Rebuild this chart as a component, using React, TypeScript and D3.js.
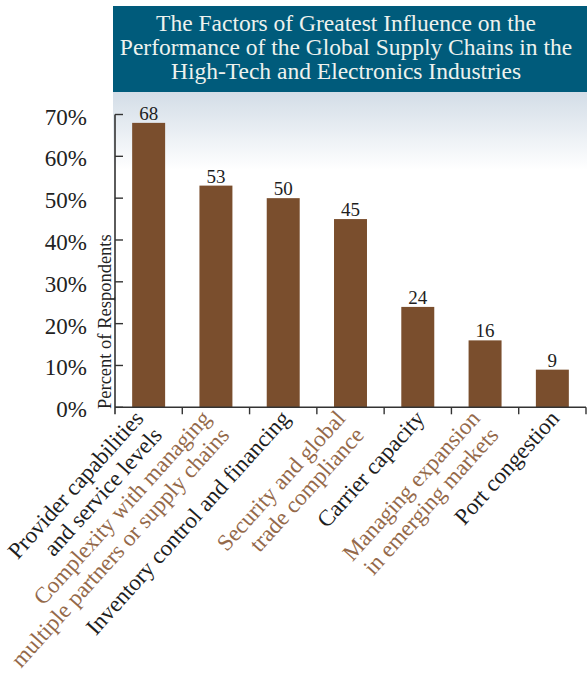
import React from "react";
import * as d3 from "d3";

const titleLines = [
  "The Factors of Greatest Influence on the",
  "Performance of the Global Supply Chains in the",
  "High-Tech and Electronics Industries",
];
const categories = [
  ["Provider capabilities", "and service levels"],
  ["Complexity with managing", "multiple partners or supply chains"],
  ["Inventory control and financing"],
  ["Security and global", "trade compliance"],
  ["Carrier capacity"],
  ["Managing expansion", "in emerging markets"],
  ["Port congestion"],
];
const values = [68, 53, 50, 45, 24, 16, 9];
const yTicks = [0, 10, 20, 30, 40, 50, 60, 70];
const yLabel = "Percent of Respondents";

const W = 587;
const H = 688;
const FONT = "'Liberation Serif', 'Times New Roman', serif";
const BAR = "#7a4e2d";
const BROWN_TEXT = "#94694a";
const DARK = "#1e1e1e";
const ANGLE = 48;

export default function App() {
  const keys = categories.map((c) => c.join(" "));
  const x = d3
    .scaleBand<string>()
    .domain(keys)
    .range([115, 586])
    .paddingInner(0.51)
    .paddingOuter(0.255);
  const y = d3.scaleLinear().domain([0, 70]).range([407.3, 114.5]);
  const step = x.step();
  const x0 = 115;
  const axisY = y(0);
  const rad = (ANGLE * Math.PI) / 180;
  const lineH = 25;
  const px = Math.sin(rad) * lineH;
  const py = Math.cos(rad) * lineH;

  return (
    <svg
      width={W}
      height={H}
      style={{ position: "absolute", left: 0, top: 0, background: "#fff" }}
      fontFamily={FONT}
    >
      <defs>
        <linearGradient id="bgGrad" x1="0" y1="0" x2="0" y2="1">
          <stop offset="0" stopColor="#d3dde7" />
          <stop offset="1" stopColor="#ffffff" />
        </linearGradient>
      </defs>
      <rect x={113} y={92} width={W - 113} height={78} fill="url(#bgGrad)" />
      <rect x={113} y={6} width={W - 113} height={86} fill="#005b7b" />
      {titleLines.map((t, i) => (
        <text
          key={i}
          x={346}
          y={31 + i * 24}
          textAnchor="middle"
          fill="#eef2ee"
          fontSize={23.5}
        >
          {t}
        </text>
      ))}

      {/* bars */}
      {values.map((v, i) => {
        const bx = x(keys[i])!;
        return (
          <g key={i}>
            <rect
              x={bx}
              y={y(v)}
              width={x.bandwidth()}
              height={axisY - y(v)}
              fill={BAR}
            />
            <text
              x={bx + x.bandwidth() / 2}
              y={y(v) - 3}
              textAnchor="middle"
              fontSize={19}
              fill={DARK}
            >
              {v}
            </text>
          </g>
        );
      })}

      {/* y axis */}
      <line x1={x0} x2={x0} y1={y(70)} y2={axisY + 7} stroke="#333" strokeWidth={1.6} />
      {yTicks.map((t) => (
        <g key={t}>
          <line x1={x0} x2={x0 + 8} y1={y(t)} y2={y(t)} stroke="#333" strokeWidth={1.4} />
          <text x={87} y={y(t) + 10} textAnchor="end" fontSize={23} fill="#222">
            {t}%
          </text>
        </g>
      ))}
      <text
        transform={`translate(111,409) rotate(-90)`}
        fontSize={18.5}
        fill="#222"
      >
        {yLabel}
      </text>

      {/* x axis */}
      <line x1={x0} x2={586} y1={axisY} y2={axisY} stroke="#333" strokeWidth={1.6} />
      {d3.range(1, keys.length + 1).map((i) => (
        <line
          key={i}
          x1={x0 + i * step}
          x2={x0 + i * step}
          y1={axisY}
          y2={axisY + 7}
          stroke="#333"
          strokeWidth={1.4}
        />
      ))}
      {categories.map((lines, i) => {
        const cx = x(keys[i])! + x.bandwidth() / 2;
        const n = lines.length;
        const dx0 = n === 1 ? 8 : -4;
        const dy0 = 12;
        const color = i % 2 === 0 ? DARK : BROWN_TEXT;
        return (
          <g key={i}>
            {lines.map((ln, j) => (
              <text
                key={j}
                transform={`translate(${cx + dx0 + j * px},${axisY + dy0 + j * py}) rotate(${-ANGLE})`}
                textAnchor="end"
                fontSize={23}
                fill={color}
              >
                {ln}
              </text>
            ))}
          </g>
        );
      })}
    </svg>
  );
}
